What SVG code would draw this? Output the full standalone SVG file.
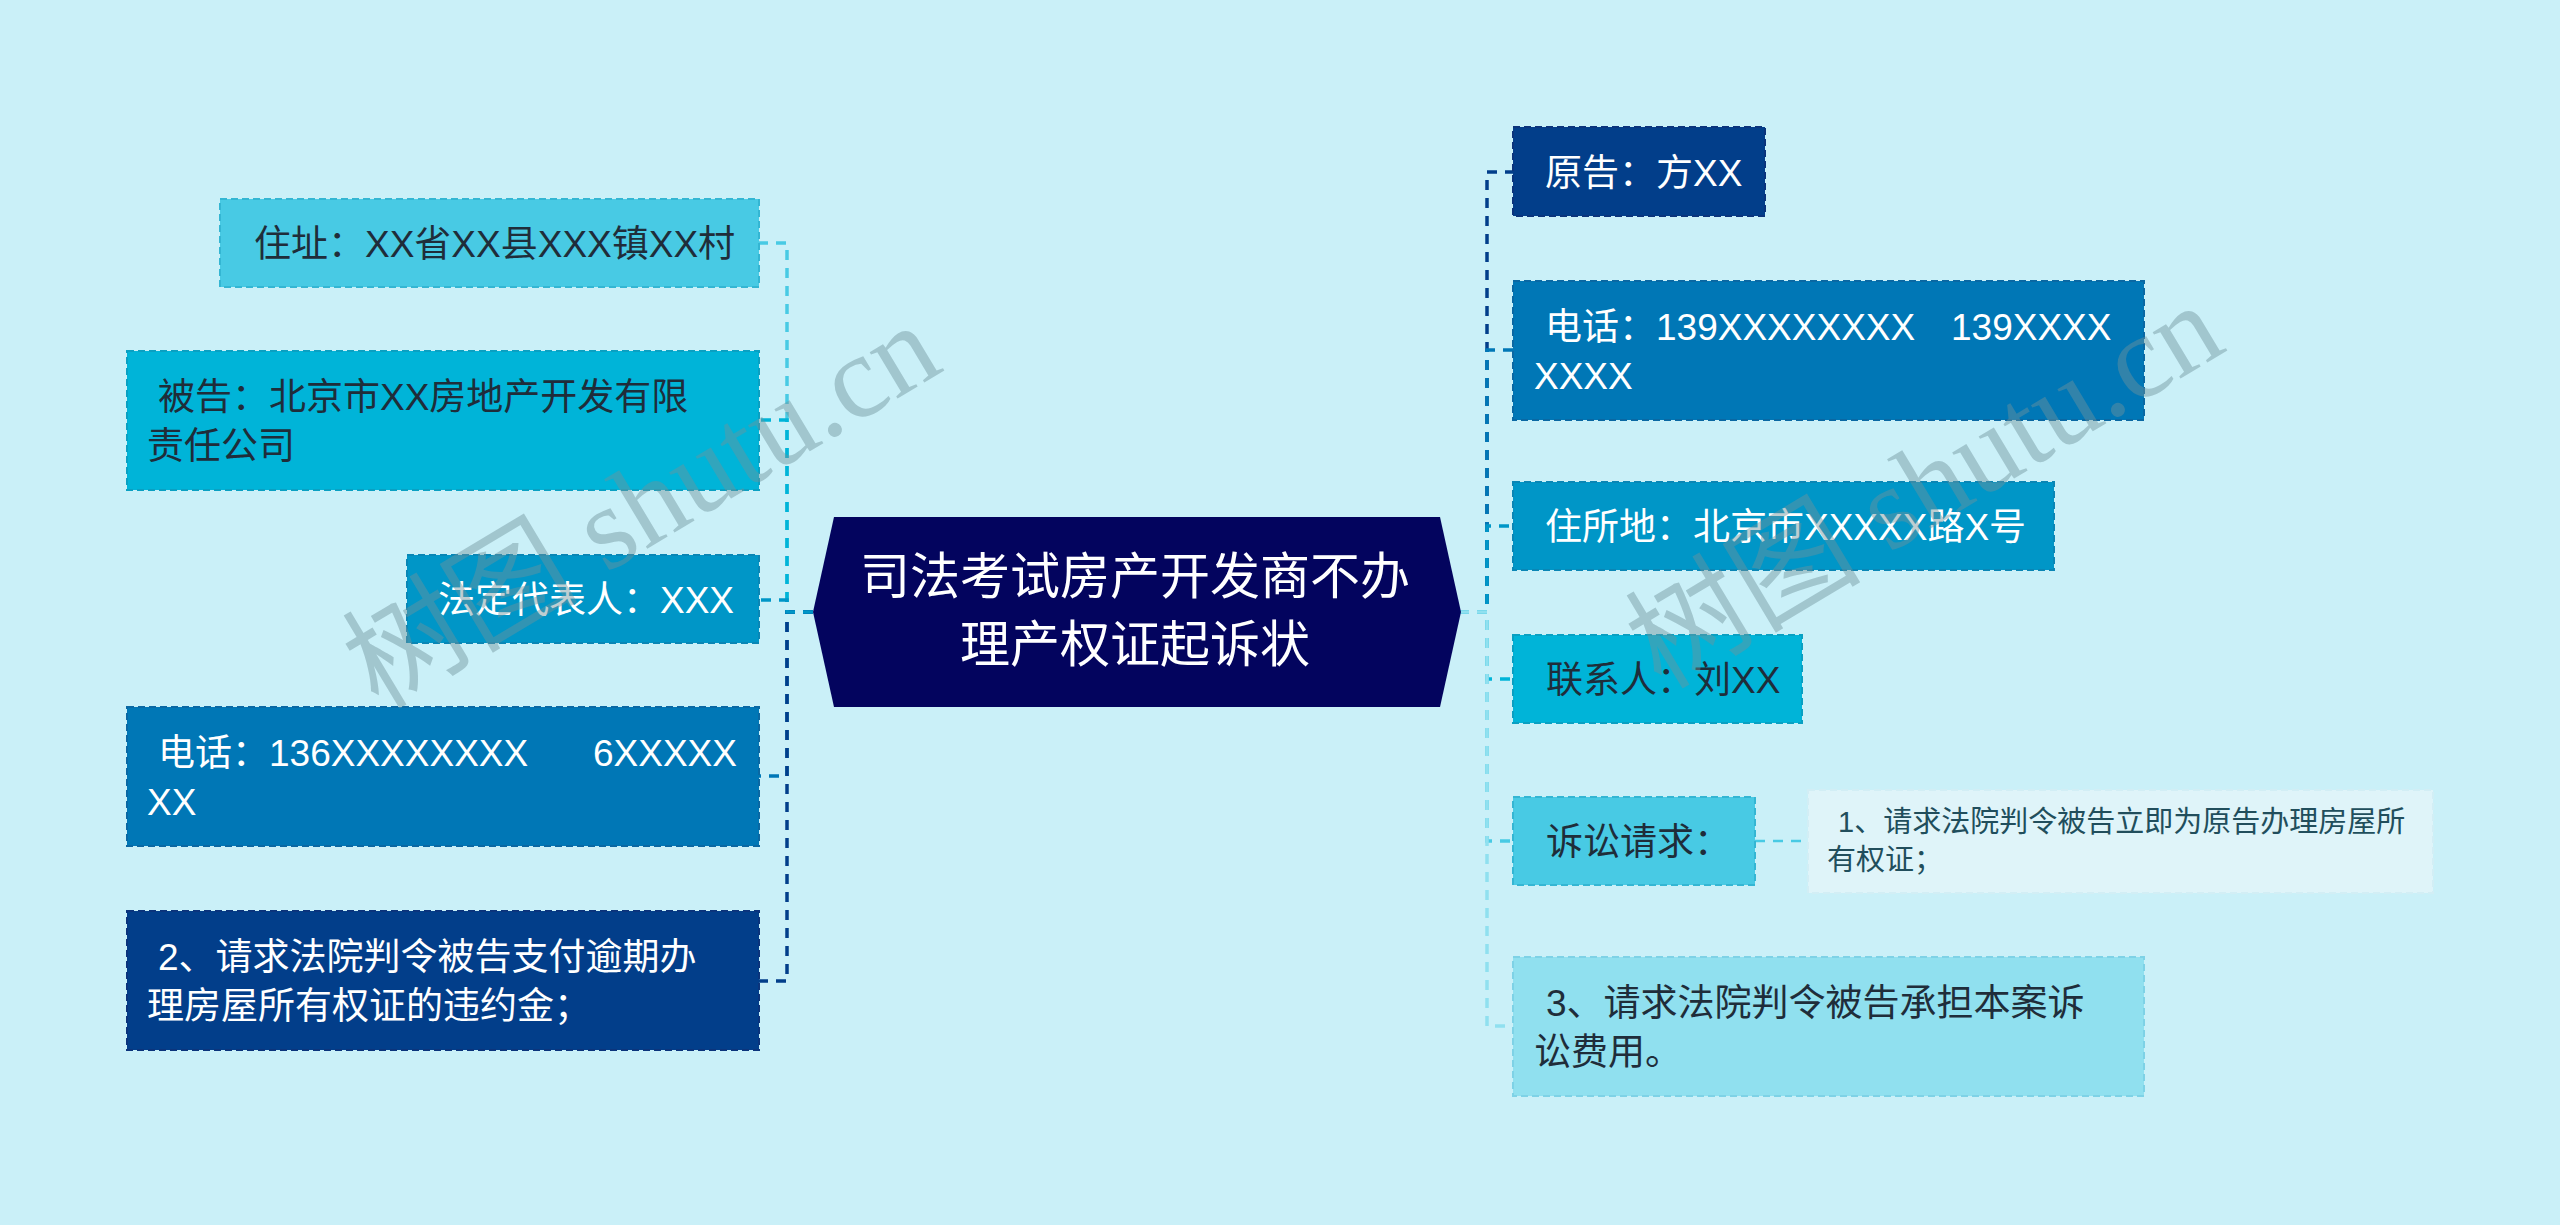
<svg xmlns="http://www.w3.org/2000/svg" width="2560" height="1225" viewBox="0 0 2560 1225">
<style>
.bg{fill:#caf0f8}
.t{font-family:"Liberation Sans","Noto Sans CJK SC","Microsoft YaHei",sans-serif;font-size:37px}
.dk{fill:#1f2d3a}
.wt{fill:#ffffff}
.box{stroke-width:2;stroke-dasharray:7 4}
.c{fill:none;stroke-width:3.5;stroke-dasharray:10 8}
.wm{font-family:"Liberation Serif","Noto Sans CJK SC",serif;font-size:118px;fill:#6f939c;fill-opacity:0.45}
</style>
<rect class="bg" x="0" y="0" width="2560" height="1225"/>

<g id="connectors">
  <path class="c" stroke="#48cae4" d="M813 612 H787 V243 H759"/>
  <path class="c" stroke="#00b4d8" d="M813 612 H787 V420 H759"/>
  <path class="c" stroke="#0077b6" d="M813 612 H787 V776 H759"/>
  <path class="c" stroke="#023e8a" d="M813 612 H787 V981 H759"/>
  <path class="c" stroke="#0096c7" d="M813 612 H787 V600 H759"/>
  <path class="c" stroke="#023e8a" d="M1459 612 H1487 V172 H1513"/>
  <path class="c" stroke="#0077b6" d="M1459 612 H1487 V350 H1513"/>
  <path class="c" stroke="#0096c7" d="M1459 612 H1487 V526 H1513"/>
  <path class="c" stroke="#00b4d8" d="M1459 612 H1487 V679 H1513"/>
  <path class="c" stroke="#48cae4" d="M1459 612 H1487 V841 H1513"/>
  <path class="c" stroke="#90e0ef" d="M1459 612 H1487 V1026 H1513"/>
  <path fill="none" stroke="#48cae4" stroke-width="2.5" stroke-dasharray="10 8" d="M1755 841 H1808"/>
</g>

<g id="center">
  <polygon points="813,612 834,517 1440,517 1461,612 1440,707 834,707" fill="#03045e"/>
  <text class="t wt" style="font-size:50px" text-anchor="middle"><tspan x="1135" y="594">司法考试房产开发商不办</tspan><tspan x="1135" y="662">理产权证起诉状</tspan></text>
</g>

<g id="n-zhuzhi">
  <rect class="box" x="220" y="199" width="539" height="88" fill="#48cae4" stroke="#34b6d3"/>
  <text class="t dk" x="254" y="257">住址：XX省XX县XXX镇XX村</text>
</g>
<g id="n-beigao">
  <rect class="box" x="127" y="351" width="632" height="139" fill="#00b4d8" stroke="#0aa0c2"/>
  <text class="t dk"><tspan x="158" y="410">被告：北京市XX房地产开发有限</tspan><tspan x="147" y="459">责任公司</tspan></text>
</g>
<g id="n-fading">
  <rect class="box" x="407" y="555" width="352" height="88" fill="#0096c7" stroke="#0a86b5"/>
  <text class="t wt" x="438" y="613">法定代表人：XXX</text>
</g>
<g id="n-dianhua-l">
  <rect class="box" x="127" y="707" width="632" height="139" fill="#0077b6" stroke="#0a68a3"/>
  <text class="t wt"><tspan x="158" y="766">电话：136XXXXXXXX</tspan><tspan x="593" y="766">6XXXXX</tspan><tspan x="147" y="815">XX</tspan></text>
</g>
<g id="n-qingqiu2">
  <rect class="box" x="127" y="911" width="632" height="139" fill="#023e8a" stroke="#0b347c"/>
  <text class="t wt"><tspan x="158" y="970">2、请求法院判令被告支付逾期办</tspan><tspan x="147" y="1019">理房屋所有权证的违约金；</tspan></text>
</g>

<g id="n-yuangao">
  <rect class="box" x="1513" y="127" width="252" height="89" fill="#023e8a" stroke="#0b347c"/>
  <text class="t wt" x="1545" y="186">原告：方XX</text>
</g>
<g id="n-dianhua-r">
  <rect class="box" x="1513" y="281" width="631" height="139" fill="#0077b6" stroke="#0a68a3"/>
  <text class="t wt"><tspan x="1545" y="340">电话：139XXXXXXXX</tspan><tspan x="1951" y="340">139XXXX</tspan><tspan x="1534" y="389">XXXX</tspan></text>
</g>
<g id="n-zhusuodi">
  <rect class="box" x="1513" y="482" width="541" height="88" fill="#0096c7" stroke="#0a86b5"/>
  <text class="t wt" x="1545" y="540">住所地：北京市XXXXX路X号</text>
</g>
<g id="n-lianxiren">
  <rect class="box" x="1513" y="635" width="289" height="88" fill="#00b4d8" stroke="#0aa0c2"/>
  <text class="t dk" x="1546" y="693">联系人：刘XX</text>
</g>
<g id="n-susong">
  <rect class="box" x="1513" y="797" width="242" height="88" fill="#48cae4" stroke="#34b6d3"/>
  <text class="t dk" x="1546" y="855">诉讼请求：</text>
</g>
<g id="n-qingqiu1">
  <rect class="box" x="1808" y="790" width="625" height="103" fill="#dff4f9" stroke="#d2eef5"/>
  <text class="t" style="font-size:29px;fill:#214e5c"><tspan x="1838" y="832">1、请求法院判令被告立即为原告办理房屋所</tspan><tspan x="1827" y="870">有权证；</tspan></text>
</g>
<g id="n-qingqiu3">
  <rect class="box" x="1513" y="957" width="631" height="139" fill="#90e0ef" stroke="#7ed2e6"/>
  <text class="t dk"><tspan x="1546" y="1016">3、请求法院判令被告承担本案诉</tspan><tspan x="1534" y="1065">讼费用。</tspan></text>
</g>

<g id="watermarks">
  <text class="wm" text-anchor="middle" transform="translate(662,540) rotate(-31)">树图 shutu.cn</text>
  <text class="wm" text-anchor="middle" transform="translate(1945,520) rotate(-31)">树图 shutu.cn</text>
</g>
</svg>
